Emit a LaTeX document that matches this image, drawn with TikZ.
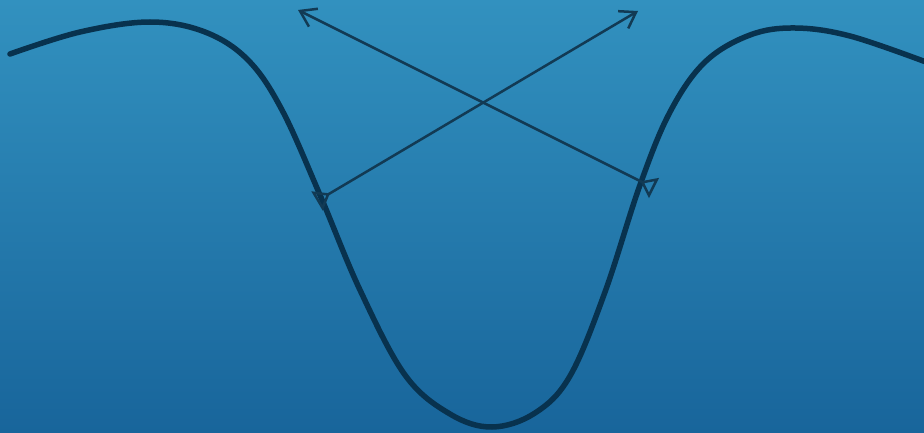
\documentclass[tikz,border=0pt]{standalone}
\usetikzlibrary{arrows.meta}
\definecolor{bgtop}{RGB}{50,145,191}
\definecolor{bgbot}{RGB}{24,101,155}
\definecolor{curvecol}{RGB}{8,50,78}
\definecolor{arrowcol}{RGB}{18,58,84}
\tikzset{
  wave/.style={draw=curvecol, line width=5.5pt, line cap=round, line join=round},
  crossarrow/.style={draw=arrowcol, line width=2.5pt,
    {Triangle[open,reversed,length=15pt,width=22pt]}-{Straight Barb[length=15pt,width=20pt]}}
}
\begin{document}
\begin{tikzpicture}[x=1pt,y=-1pt]
\useasboundingbox (0,0) rectangle (924,433);
\shade[top color=bgtop, bottom color=bgbot] (0,0) rectangle (924,433);
\draw[wave] plot[smooth, tension=0.6] coordinates {
 (10,54) (80,32) (150,22) (205,32) (248,60) (282,110) (320,195) (360,290)
 (405,375) (450,414) (492,427) (535,413) (570,376) (605,292) (640,185)
 (670,112) (705,62) (750,35) (795,28) (850,36) (926,62)};
\coordinate (a1) at (317,201);
\coordinate (b1) at (638,11);
\coordinate (a2) at (654,188);
\coordinate (b2) at (298,10);
\draw[crossarrow] (a1) -- (b1);
\draw[crossarrow] (a2) -- (b2);
\end{tikzpicture}
\end{document}
